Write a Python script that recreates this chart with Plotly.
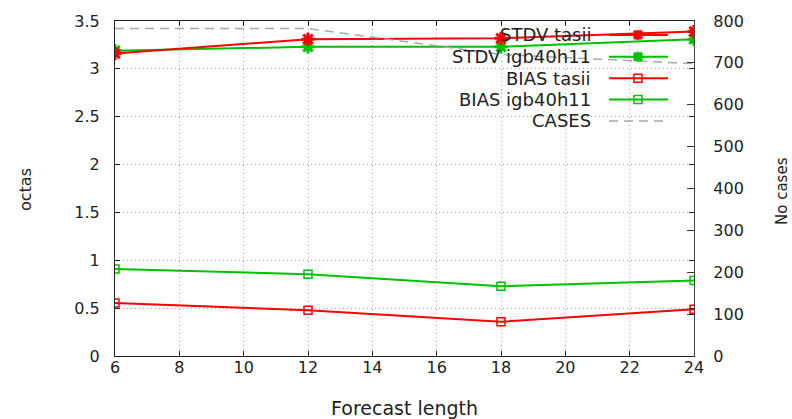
import plotly.graph_objects as go

# ---- data ----
forecast_length = [6, 12, 18, 24]
stdv_tasii = [3.16, 3.31, 3.32, 3.39]
stdv_igb40h11 = [3.19, 3.23, 3.23, 3.31]
bias_tasii = [0.554, 0.478, 0.357, 0.489]
bias_igb40h11 = [0.91, 0.855, 0.73, 0.79]
cases = [782, 782, 720, 698]

x_ticks = [6, 8, 10, 12, 14, 16, 18, 20, 22, 24]
y_ticks = [0, 0.5, 1, 1.5, 2, 2.5, 3, 3.5]
y2_ticks = [0, 100, 200, 300, 400, 500, 600, 700, 800]

legend_names = ["STDV tasii", "STDV igb40h11", "BIAS tasii", "BIAS igb40h11", "CASES"]

RED = "#ff0000"
GREEN = "#00c000"
GREY = "#a8a8a8"
FONT = "DejaVu Sans"
TXT = "#222222"

W, H = 792, 419
L, R, T, B = 115, 694, 19, 356


def px(X):
    return (X - L) / (R - L)


def py(Y):
    return (B - Y) / (B - T)


fig = go.Figure()

fig.add_trace(go.Scatter(x=forecast_length, y=cases, yaxis="y2", mode="lines",
                         line=dict(color=GREY, width=1.5, dash="9px,6px"),
                         name="CASES", showlegend=False))
fig.add_trace(go.Scatter(x=forecast_length, y=bias_igb40h11, mode="lines+markers",
                         line=dict(color=GREEN, width=2),
                         marker=dict(symbol="square-open", size=8, color=GREEN, line=dict(width=1.5, color=GREEN)),
                         name="BIAS igb40h11", showlegend=False))
fig.add_trace(go.Scatter(x=forecast_length, y=bias_tasii, mode="lines+markers",
                         line=dict(color=RED, width=2),
                         marker=dict(symbol="square-open", size=8, color=RED, line=dict(width=1.5, color=RED)),
                         name="BIAS tasii", showlegend=False))
fig.add_trace(go.Scatter(x=forecast_length, y=stdv_igb40h11, mode="lines+markers",
                         line=dict(color=GREEN, width=2),
                         marker=dict(symbol="asterisk-open", size=11, color=GREEN, line=dict(width=3, color=GREEN)),
                         name="STDV igb40h11", showlegend=False))
fig.add_trace(go.Scatter(x=forecast_length, y=stdv_tasii, mode="lines+markers",
                         line=dict(color=RED, width=2),
                         marker=dict(symbol="asterisk-open", size=11, color=RED, line=dict(width=3, color=RED)),
                         name="STDV tasii", showlegend=False))

shapes = []
annotations = []

# opaque key box (covers grid only)
shapes.append(dict(type="rect", xref="paper", yref="paper", layer="between",
                   x0=px(428), x1=px(679), y0=py(128), y1=1.0,
                   fillcolor="white", line=dict(width=0)))

# custom gnuplot-style key
rows_y = [33, 55, 76.5, 98, 119.5]
styles = [(RED, "star"), (GREEN, "star"), (RED, "square"), (GREEN, "square"), (GREY, "dash")]
for name, Y, (col, kind) in zip(legend_names, rows_y, styles):
    annotations.append(dict(text=name, xref="paper", yref="paper", x=px(593), y=py(Y),
                            xanchor="right", yanchor="middle", showarrow=False,
                            font=dict(family=FONT, size=18, color=TXT)))
    if kind == "dash":
        shapes.append(dict(type="line", xref="paper", yref="paper", x0=px(609), x1=px(668),
                           y0=py(Y), y1=py(Y), line=dict(color=GREY, width=1.5, dash="9px,6px")))
        continue
    shapes.append(dict(type="line", xref="paper", yref="paper", x0=px(609), x1=px(668),
                       y0=py(Y), y1=py(Y), line=dict(color=col, width=2)))
    if kind == "square":
        shapes.append(dict(type="rect", xref="paper", yref="paper", xsizemode="pixel", ysizemode="pixel",
                           xanchor=px(638), yanchor=py(Y), x0=-4, x1=4, y0=-4, y1=4,
                           line=dict(color=col, width=1.5), fillcolor="rgba(0,0,0,0)"))
    else:
        s = 5
        path = f"M{-s},0L{s},0M0,{-s}L0,{s}M{-s*0.8},{-s*0.8}L{s*0.8},{s*0.8}M{-s*0.8},{s*0.8}L{s*0.8},{-s*0.8}"
        shapes.append(dict(type="path", xref="paper", yref="paper", xsizemode="pixel", ysizemode="pixel",
                           xanchor=px(638), yanchor=py(Y), path=path,
                           line=dict(color=col, width=3)))

# axis titles
annotations.append(dict(text="Forecast length", xref="paper", yref="paper", x=0.5, y=py(408),
                        xanchor="center", yanchor="middle", showarrow=False,
                        font=dict(family=FONT, size=19, color=TXT)))
annotations.append(dict(text="octas", xref="paper", yref="paper", x=px(26), y=py(189),
                        xanchor="center", yanchor="middle", showarrow=False, textangle=-90,
                        font=dict(family=FONT, size=16, color=TXT)))
annotations.append(dict(text="No cases", xref="paper", yref="paper", x=px(782), y=py(190),
                        xanchor="center", yanchor="middle", showarrow=False, textangle=-90,
                        font=dict(family=FONT, size=15, color=TXT)))

GRID = dict(showgrid=True, gridcolor="#a8a8a8", griddash="1px,3px", gridwidth=1)

fig.update_layout(
    width=W, height=H,
    margin=dict(l=L, r=W - R, t=T, b=H - B, pad=0),
    paper_bgcolor="white", plot_bgcolor="white",
    font=dict(family=FONT, size=16, color=TXT),
    showlegend=False,
    shapes=shapes, annotations=annotations,
    xaxis=dict(range=[6, 24], tickvals=x_ticks, ticks="inside", ticklen=5, tickcolor="#222",
               showline=True, linecolor="#222", linewidth=1.2, mirror="ticks",
               zeroline=False, tickfont=dict(size=16), ticklabelstandoff=-3, **GRID),
    yaxis=dict(range=[0, 3.5], tickvals=y_ticks, ticks="inside", ticklen=5, tickcolor="#222",
               showline=True, linecolor="#222", linewidth=1.2, mirror="ticks",
               zeroline=False, tickfont=dict(size=16), ticklabelstandoff=11, **GRID),
    yaxis2=dict(range=[0, 800], tickvals=y2_ticks, ticks="inside", ticklen=7, tickcolor="#333",
                overlaying="y", side="right", showline=True, linecolor="#444", linewidth=1.2,
                showgrid=False, zeroline=False, tickfont=dict(size=16), ticklabelstandoff=15),
)

fig.write_html("out.html", config={"displayModeBar": False},
               post_script="document.body.style.margin='0px';document.body.style.overflow='hidden';")
